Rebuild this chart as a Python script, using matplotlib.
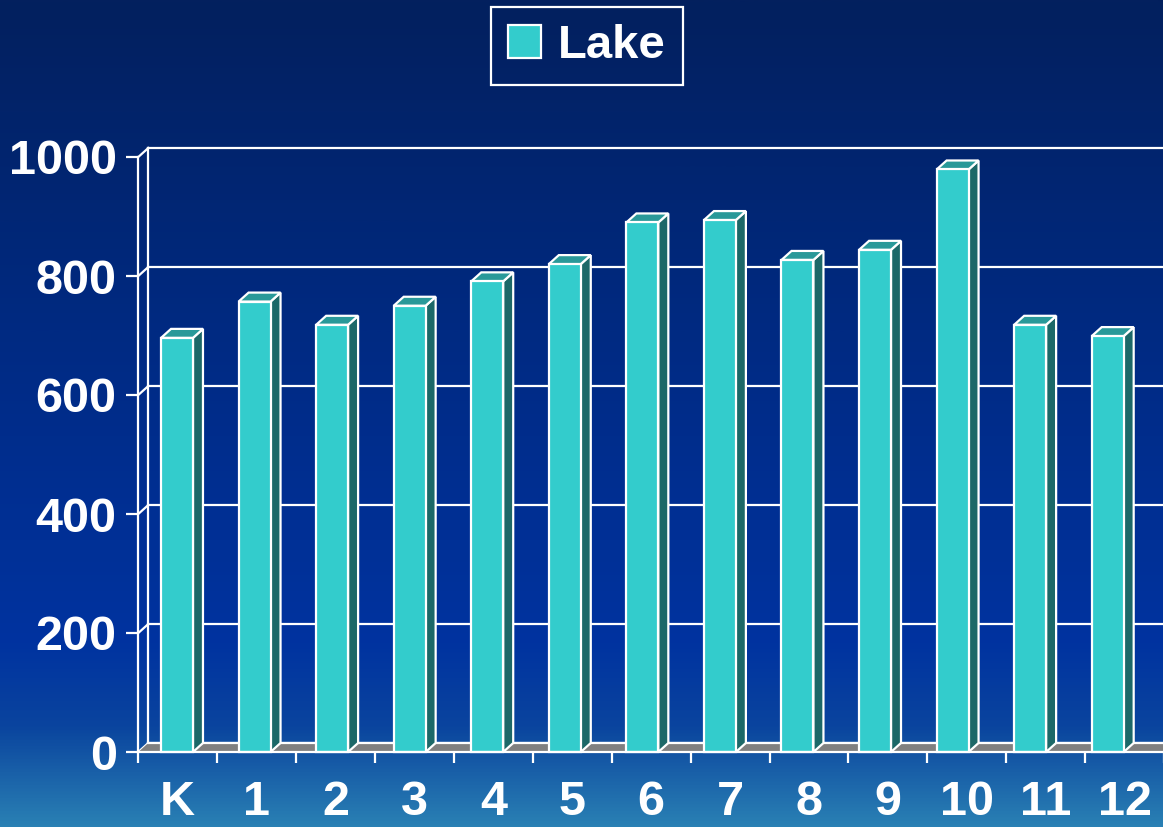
import numpy as np
import matplotlib
matplotlib.use("Agg")
import matplotlib.pyplot as plt
from matplotlib.patches import Polygon, Patch
from matplotlib.colors import LinearSegmentedColormap
from matplotlib.font_manager import FontProperties

plt.rcParams['font.family'] = ['Liberation Sans', 'DejaVu Sans']
plt.rcParams['font.weight'] = 'bold'

# ---- data ----
categories = ['K', '1', '2', '3', '4', '5', '6', '7', '8', '9', '10', '11', '12']
lake = [696, 757, 718, 750, 791, 820, 890, 894, 827, 844, 979, 718, 699]
yticks = [0, 200, 400, 600, 800, 1000]
series_name = 'Lake'

# ---- style ----
FRONT = '#33CCCC'
SIDE = '#1C6868'
TOP = '#299999'
FLOOR = '#808080'
W = 1163
H = 827

fig = plt.figure(figsize=(W / 100, H / 100), dpi=100)

# background gradient
bg = fig.add_axes([0, 0, 1, 1], zorder=0)
cmap = LinearSegmentedColormap.from_list('bg', [
    (0.0, '#03205e'), (0.40, '#002a82'), (0.78, '#0033a0'),
    (0.88, '#0a449e'), (1.0, '#2a80b4')])
grad = np.linspace(0, 1, 512).reshape(-1, 1)
bg.imshow(grad, cmap=cmap, aspect='auto', extent=[0, 1, 0, 1], origin='upper')
bg.axis('off')

# main axes (front plane)
cat_px = 78.9
x_left = 138.3
y_zero = 752
y_top = 157
ax = fig.add_axes([x_left / W, (H - y_zero) / H, cat_px * 13 / W, (y_zero - y_top) / H], zorder=1)
ax.patch.set_alpha(0)
ax.set_xlim(-0.5, 12.5)
ax.set_ylim(0, 1000)

px_per_unit = (y_zero - y_top) / 1000
dx = 10 / cat_px
dy = 9 / px_per_unit

lw = 1.6
# back wall & gridlines
xl = -0.5 + dx
xr = 12.5 + dx
for v in yticks:
    ax.plot([xl, xr], [v + dy, v + dy], color='white', lw=lw, clip_on=False, zorder=2)
    ax.plot([-0.5, xl], [v, v + dy], color='white', lw=lw, clip_on=False, zorder=2)
ax.plot([xl, xl], [dy, 1000 + dy], color='white', lw=lw, clip_on=False, zorder=2)

# floor
floor = Polygon([(-0.5, 0), (12.5, 0), (xr, dy), (xl, dy)], closed=True,
                facecolor=FLOOR, edgecolor='none', clip_on=False, zorder=3)
ax.add_patch(floor)
ax.plot([xl, xr], [dy, dy], color='white', lw=lw, clip_on=False, zorder=3.5)

# bars
bw = 0.405
step = 0.983
x0 = -0.212
centers = [x0 + bw / 2 + i * step for i in range(len(lake))]
bars = ax.bar(centers, lake, width=bw, color=FRONT, edgecolor='white',
              linewidth=lw, zorder=5, clip_on=False)
for b, v in zip(bars, lake):
    a = b.get_x()
    c = a + b.get_width()
    side = Polygon([(c, 0), (c + dx, dy), (c + dx, v + dy), (c, v)], closed=True,
                   facecolor=SIDE, edgecolor='white', lw=lw, clip_on=False, zorder=4)
    top = Polygon([(a, v), (c, v), (c + dx, v + dy), (a + dx, v + dy)], closed=True,
                  facecolor=TOP, edgecolor='white', lw=lw, clip_on=False, zorder=4)
    ax.add_patch(side)
    ax.add_patch(top)

# axes styling
for s in ['top', 'right']:
    ax.spines[s].set_visible(False)
for s in ['left', 'bottom']:
    ax.spines[s].set_color('white')
    ax.spines[s].set_linewidth(lw)
    ax.spines[s].set_zorder(6)

ax.set_yticks(yticks)
ax.set_yticklabels([str(v) for v in yticks])
ax.tick_params(axis='y', length=8.6, width=lw, colors='white', pad=7, labelsize=35)
ax.set_xticks(range(len(categories)))
ax.set_xticklabels(categories)
ax.tick_params(axis='x', which='major', length=0, pad=20, labelsize=35, labelcolor='white')
ax.set_xticks(np.arange(-0.5, len(categories), 1), minor=True)
ax.tick_params(axis='x', which='minor', length=8, width=lw, color='white', direction='out')
for t in ax.get_xticklabels() + ax.get_yticklabels():
    t.set_fontweight('bold')

# legend
handle = Patch(facecolor=FRONT, edgecolor='white', linewidth=lw, label=series_name)
leg = fig.legend(handles=[handle], loc='center', bbox_to_anchor=(0.5045, 0.944),
                 frameon=True, fancybox=False, edgecolor='white', facecolor='none',
                 framealpha=1,
                 prop=FontProperties(family='Liberation Sans', weight='bold', size=34),
                 labelcolor='white', handlelength=0.70, handleheight=0.70,
                 handletextpad=0.36, borderpad=0.36)
leg.get_frame().set_linewidth(lw)
leg.set_zorder(10)

fig.savefig('out.png', dpi=100)
